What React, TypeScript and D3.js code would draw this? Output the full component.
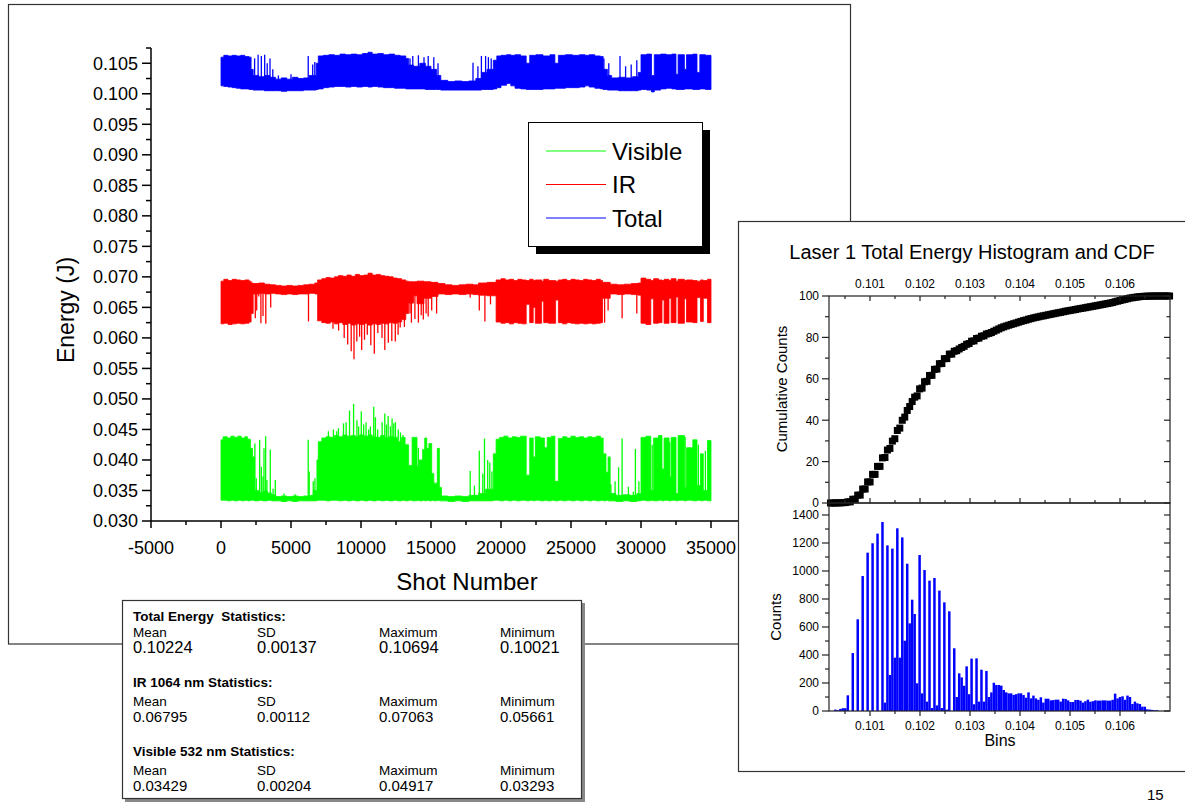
import React from 'react';
import * as d3 from 'd3';

const W = 1185;
const H = 803;
const FONT = "'Liberation Sans', Arial, Helvetica, sans-serif";

// ---------------- Main time-series (step envelopes + spikes) ----------------
const greenShots = [0,150,450,700,950,1200,1450,1700,1900,2100,2250,2400,2700,3000,3300,3600,3900,4300,4700,5100,5500,5900,6300,6600,6850,6950,7200,7500,7800,8100,8400,8700,9000,9300,9600,9900,10200,10500,10800,11100,11400,11700,12000,12300,12600,12900,13150,13400,13650,14000,14150,14400,14550,14700,14850,15050,15200,15450,15600,15750,16200,16700,17200,17700,18400,18900,19450,19650,19900,20200,20500,20800,21100,21400,21800,22050,22300,22450,22800,23100,23300,23600,23850,24100,24400,24700,25000,25300,25600,25900,26200,26500,26800,27100,27300,27500,27650,27800,28200,28700,29200,29700,30000,30350,30700,30900,31250,31500,31650,32000,32150,32500,32650,33100,33250,33700,34000,34250,34450,34750,35000];
const greenLow = [0.0334,0.0334,0.0333,0.0334,0.0333,0.0334,0.0333,0.0334,0.0333,0.0334,0.0334,0.0333,0.0334,0.0333,0.0334,0.0333,0.0333,0.0332,0.0333,0.0332,0.0333,0.0333,0.0333,0.0333,0.0334,0.0334,0.0334,0.0333,0.0334,0.0334,0.0333,0.0334,0.0333,0.0334,0.0333,0.0334,0.0333,0.0334,0.0333,0.0334,0.0333,0.0334,0.0333,0.0334,0.0333,0.0334,0.0333,0.0334,0.0333,0.0334,0.0333,0.0334,0.0333,0.0334,0.0333,0.0334,0.0333,0.0334,0.0333,0.0333,0.0332,0.0333,0.0332,0.0333,0.0333,0.0333,0.0334,0.0334,0.0333,0.0334,0.0333,0.0334,0.0333,0.0334,0.0333,0.0334,0.0333,0.0334,0.0333,0.0334,0.0333,0.0334,0.0333,0.0334,0.0333,0.0334,0.0333,0.0334,0.0333,0.0334,0.0333,0.0334,0.0333,0.0334,0.0333,0.0334,0.0333,0.0333,0.0332,0.0333,0.0332,0.0333,0.0334,0.0333,0.0334,0.0333,0.0334,0.0333,0.0334,0.0333,0.0334,0.0333,0.0334,0.0333,0.0334,0.0333,0.0334,0.0333,0.0334,0.0333,0.0333];
const greenHigh = [0.0433,0.0438,0.0436,0.0439,0.0437,0.0439,0.0436,0.0438,0.0434,0.0419,0.0405,0.0350,0.0346,0.0349,0.0346,0.0343,0.0340,0.0341,0.0340,0.0341,0.0340,0.0341,0.0342,0.0350,0.0400,0.0430,0.0436,0.0438,0.0437,0.0440,0.0438,0.0441,0.0439,0.0440,0.0438,0.0441,0.0439,0.0441,0.0438,0.0437,0.0440,0.0436,0.0438,0.0437,0.0430,0.0437,0.0425,0.0391,0.0437,0.0389,0.0400,0.0417,0.0436,0.0419,0.0427,0.0378,0.0362,0.0419,0.0355,0.0341,0.0340,0.0341,0.0340,0.0342,0.0345,0.0352,0.0410,0.0434,0.0437,0.0439,0.0436,0.0438,0.0437,0.0439,0.0375,0.0436,0.0405,0.0438,0.0436,0.0420,0.0437,0.0439,0.0365,0.0435,0.0438,0.0436,0.0439,0.0437,0.0438,0.0436,0.0438,0.0437,0.0439,0.0436,0.0410,0.0380,0.0405,0.0345,0.0342,0.0343,0.0342,0.0345,0.0437,0.0439,0.0350,0.0436,0.0440,0.0385,0.0436,0.0372,0.0437,0.0345,0.0440,0.0355,0.0420,0.0433,0.0358,0.0410,0.0350,0.0432,0.0432];
const greenSpikeShots = [2420,2520,2760,2880,3000,3070,3190,3280,3520,3720,3880,4500,5300,6230,6300,6590,6710,7670,8030,8270,8390,8750,8940,9180,9470,9710,9830,10020,10190,10360,10550,10670,10910,11030,11190,11510,11700,11820,11940,12100,12220,12340,12460,12660,12820,13000,14100,17800,18100,18450,18700,18820,19050,19200,19350,27850,28150,28400,28650,29100,29450,29600,29850,30800,32050,33150,34100,34600];
const greenSpikeValues = [0.0427,0.0370,0.0433,0.0389,0.0373,0.0419,0.0439,0.0367,0.0417,0.0353,0.0367,0.0345,0.0344,0.0433,0.0381,0.0365,0.0370,0.0447,0.0450,0.0447,0.0452,0.0460,0.0462,0.0481,0.0492,0.0465,0.0455,0.0480,0.0458,0.0462,0.0450,0.0455,0.0487,0.0470,0.0450,0.0462,0.0476,0.0458,0.0472,0.0455,0.0468,0.0460,0.0462,0.0450,0.0445,0.0441,0.0420,0.0382,0.0358,0.0415,0.0378,0.0435,0.0400,0.0396,0.0381,0.0360,0.0365,0.0388,0.0435,0.0356,0.0348,0.0418,0.0365,0.0425,0.0430,0.0438,0.0425,0.0415];

const redShots = [0,200,500,800,1100,1400,1700,2000,2150,2300,2700,3100,3500,3900,4300,4700,5100,5500,5900,6300,6700,6900,7200,7500,7800,8100,8400,8700,9000,9300,9600,9900,10200,10500,10800,11100,11400,11700,12000,12300,12600,12900,13200,13400,13750,14000,14500,15000,15500,16000,16500,17000,17500,18000,18400,19000,19650,20000,20300,20600,20900,21200,21500,21800,22050,22300,22450,22900,23050,23400,23900,24100,24400,24700,25000,25300,25600,25900,26200,26500,26800,27100,27250,27800,28300,28800,29300,29800,30000,30350,30700,30900,31250,31500,31650,32000,32150,32500,32650,33100,33250,33700,34000,34250,34450,34750,35000];
const redLow = [0.0623,0.0624,0.0622,0.0623,0.0624,0.0623,0.0624,0.0626,0.0640,0.0672,0.0673,0.0672,0.0673,0.0672,0.0671,0.0672,0.0671,0.0672,0.0672,0.0673,0.0672,0.0628,0.0625,0.0624,0.0626,0.0623,0.0625,0.0622,0.0624,0.0621,0.0623,0.0622,0.0624,0.0621,0.0623,0.0622,0.0624,0.0623,0.0625,0.0624,0.0626,0.0630,0.0640,0.0657,0.0669,0.0656,0.0665,0.0668,0.0672,0.0671,0.0672,0.0671,0.0672,0.0671,0.0670,0.0669,0.0626,0.0624,0.0625,0.0623,0.0625,0.0624,0.0623,0.0655,0.0625,0.0650,0.0624,0.0660,0.0625,0.0624,0.0662,0.0625,0.0623,0.0625,0.0624,0.0623,0.0624,0.0623,0.0624,0.0623,0.0624,0.0625,0.0665,0.0672,0.0671,0.0672,0.0671,0.0670,0.0624,0.0622,0.0664,0.0624,0.0625,0.0662,0.0624,0.0665,0.0625,0.0667,0.0624,0.0664,0.0626,0.0625,0.0666,0.0627,0.0665,0.0625,0.0625];
const redHigh = [0.0693,0.0696,0.0694,0.0696,0.0695,0.0694,0.0695,0.0693,0.0690,0.0689,0.0690,0.0688,0.0687,0.0686,0.0685,0.0686,0.0685,0.0686,0.0687,0.0688,0.0690,0.0695,0.0697,0.0699,0.0698,0.0700,0.0702,0.0701,0.0703,0.0701,0.0704,0.0702,0.0703,0.0706,0.0703,0.0704,0.0702,0.0701,0.0700,0.0698,0.0697,0.0695,0.0693,0.0692,0.0692,0.0693,0.0692,0.0691,0.0689,0.0687,0.0686,0.0687,0.0688,0.0687,0.0690,0.0691,0.0695,0.0697,0.0695,0.0696,0.0694,0.0696,0.0695,0.0694,0.0696,0.0694,0.0695,0.0693,0.0696,0.0694,0.0693,0.0695,0.0696,0.0694,0.0696,0.0695,0.0694,0.0696,0.0695,0.0694,0.0696,0.0694,0.0691,0.0688,0.0687,0.0688,0.0689,0.0690,0.0698,0.0696,0.0694,0.0697,0.0695,0.0694,0.0696,0.0694,0.0697,0.0693,0.0696,0.0694,0.0695,0.0694,0.0693,0.0695,0.0694,0.0696,0.0696];
const redSpikeShots = [2450,2550,2700,2850,3000,3200,3550,6250,8000,8400,8800,9050,9300,9500,9700,9900,10050,10250,10450,10700,10950,11200,11500,11700,11950,12200,12450,12650,12800,13100,13500,13600,13850,14100,14300,14450,14650,14800,15050,15400,17800,18450,18850,19250,27400,27650,28650,29700];
const redSpikeValues = [0.0632,0.0645,0.0668,0.0624,0.0636,0.0623,0.0650,0.0627,0.0615,0.0612,0.0600,0.0589,0.0578,0.0565,0.0594,0.0602,0.0580,0.0597,0.0605,0.0588,0.0574,0.0608,0.0600,0.0580,0.0592,0.0595,0.0594,0.0605,0.0617,0.0618,0.0640,0.0625,0.0631,0.0625,0.0637,0.0630,0.0640,0.0635,0.0645,0.0640,0.0666,0.0645,0.0627,0.0655,0.0625,0.0645,0.0632,0.0640];

const blueShots = [0,200,500,800,1100,1400,1700,2000,2150,2300,2700,3100,3500,3900,4300,4700,5100,5500,5900,6300,6800,6950,7300,7700,8100,8500,8900,9300,9700,10100,10500,10800,11200,11600,12000,12400,12800,13200,13400,13750,14200,14600,15000,15400,15700,16200,16700,17200,17700,18200,18600,19000,19450,19700,20000,20400,20700,21000,21400,21800,22050,22500,23000,23500,23850,24100,24600,25100,25600,26000,26300,26700,27100,27300,27600,27900,28400,28900,29400,29800,30000,30400,30750,30950,31400,31800,32200,32500,32650,33100,33250,33700,34000,34200,34600,35000];
const blueLow = [0.1013,0.1012,0.1011,0.1010,0.1009,0.1008,0.1008,0.1007,0.1007,0.1006,0.1006,0.1005,0.1005,0.1005,0.1004,0.1005,0.1005,0.1005,0.1006,0.1006,0.1007,0.1008,0.1010,0.1011,0.1012,0.1012,0.1011,0.1012,0.1011,0.1012,0.1011,0.1012,0.1011,0.1010,0.1010,0.1009,0.1009,0.1008,0.1008,0.1008,0.1008,0.1007,0.1007,0.1007,0.1006,0.1006,0.1006,0.1006,0.1006,0.1006,0.1007,0.1007,0.1008,0.1010,0.1014,0.1017,0.1013,0.1009,0.1008,0.1007,0.1007,0.1007,0.1008,0.1008,0.1009,0.1009,0.1010,0.1010,0.1011,0.1013,0.1011,0.1009,0.1008,0.1007,0.1006,0.1006,0.1005,0.1005,0.1005,0.1006,0.1007,0.1006,0.1003,0.1006,0.1008,0.1009,0.1008,0.1007,0.1007,0.1008,0.1008,0.1007,0.1007,0.1008,0.1007,0.1007];
const blueHigh = [0.1060,0.1063,0.1062,0.1063,0.1062,0.1063,0.1061,0.1060,0.1040,0.1030,0.1028,0.1030,0.1027,0.1024,0.1026,0.1024,0.1027,0.1025,0.1026,0.1030,0.1050,0.1062,0.1063,0.1064,0.1063,0.1065,0.1064,0.1065,0.1064,0.1066,0.1068,0.1065,0.1066,0.1064,0.1065,0.1063,0.1062,0.1058,0.1047,0.1045,0.1050,0.1045,0.1040,0.1030,0.1022,0.1020,0.1021,0.1020,0.1021,0.1025,0.1035,0.1040,0.1055,0.1062,0.1063,0.1064,0.1063,0.1064,0.1062,0.1050,0.1063,0.1064,0.1062,0.1064,0.1050,0.1063,0.1064,0.1063,0.1064,0.1063,0.1064,0.1062,0.1061,0.1040,0.1030,0.1026,0.1027,0.1026,0.1028,0.1035,0.1064,0.1065,0.1030,0.1064,0.1065,0.1064,0.1065,0.1032,0.1064,0.1040,0.1064,0.1065,0.1035,0.1064,0.1063,0.1063];
const blueSpikeShots = [2400,2650,2880,3120,3300,3500,3700,4100,5000,6230,6550,6700,13500,13700,14100,14500,14800,15200,15500,18000,18350,18600,18900,19100,19300,27350,27700,28500,28900,29300,29700];
const blueSpikeValues = [0.1058,0.1064,0.1062,0.1064,0.1050,0.1058,0.1040,0.1030,0.1032,0.1062,0.1048,0.1052,0.1058,0.1062,0.1063,0.1060,0.1062,0.1060,0.1050,0.1051,0.1045,0.1062,0.1062,0.1060,0.1058,0.1058,0.1050,0.1062,0.1045,0.1048,0.1055];

const energyTicks = [0.030,0.035,0.040,0.045,0.050,0.055,0.060,0.065,0.070,0.075,0.080,0.085,0.090,0.095,0.100,0.105];
const shotTicks = [-5000,0,5000,10000,15000,20000,25000,30000,35000];

const legendLabels = ['Visible', 'IR', 'Total'];
const legendColors = ['#00ff00', '#ff0000', '#0000ff'];

// ---------------- Statistics box ----------------
const statColumns = ['Mean', 'SD', 'Maximum', 'Minimum'];
const statTitles = ['Total Energy  Statistics:', 'IR 1064 nm Statistics:', 'Visible 532 nm Statistics:'];
const totalStats = ['0.10224', '0.00137', '0.10694', '0.10021'];
const irStats = ['0.06795', '0.00112', '0.07063', '0.05661'];
const visibleStats = ['0.03429', '0.00204', '0.04917', '0.03293'];

// ---------------- Histogram / CDF ----------------
const histFirstCenter = 0.10021;
const histBinWidth = 0.0000495;
const histCounts = [0,0,10,5,15,20,20,112,0,414,0,655,0,964,0,1131,0,1198,0,1267,0,1350,60,1183,257,1160,381,1305,381,1240,502,1052,626,795,693,198,1114,126,1007,67,931,21,950,40,860,21,776,10,712,0,448,100,269,240,180,319,120,374,48,376,67,295,67,286,100,133,202,186,186,181,150,133,126,126,115,120,126,126,114,95,133,90,110,90,80,98,60,88,88,76,78,81,81,67,88,86,76,64,64,79,79,74,60,70,81,66,70,76,74,74,76,76,74,74,80,124,90,100,105,80,110,100,50,67,55,50,31,31,12,10,8,5,5,0,0,0,0,0];
const binTicks = [0.101,0.102,0.103,0.104,0.105,0.106];
const cdfTicks = [0,20,40,60,80,100];
const countTicks = [0,200,400,600,800,1000,1200,1400];

function stepAreaPath(shots: number[], low: number[], high: number[], x: any, y: any) {
  const pts = shots.map((s, i) => ({ s, lo: low[i], hi: high[i] }));
  return d3.area<any>().x((d) => x(d.s)).y0((d) => y(d.lo)).y1((d) => y(d.hi)).curve(d3.curveStepAfter)(pts) || '';
}

function bandAt(shots: number[], arr: number[], s: number) {
  let idx = d3.bisectRight(shots, s) - 1;
  if (idx < 0) idx = 0;
  return arr[idx];
}

export default function App() {
  // main chart scales
  const x = d3.scaleLinear().domain([-5000, 37000]).range([151, 739]);
  const y = d3.scaleLinear().domain([0.030, 0.1075]).range([521, 48]);

  const series = [
    { shots: greenShots, low: greenLow, high: greenHigh, sx: greenSpikeShots, sv: greenSpikeValues, color: '#00ff00', up: true },
    { shots: redShots, low: redLow, high: redHigh, sx: redSpikeShots, sv: redSpikeValues, color: '#ff0000', up: false },
    { shots: blueShots, low: blueLow, high: blueHigh, sx: blueSpikeShots, sv: blueSpikeValues, color: '#0000ff', up: true },
  ];

  const yMinor = energyTicks.map((v) => v + 0.0025);
  const xMinor = shotTicks.map((v) => v + 2500).filter((v) => v <= 37000);

  // histogram scales
  const xb = d3.scaleLinear().domain([0.10018, 0.107]).range([829, 1170]);
  const yc = d3.scaleLinear().domain([0, 100]).range([503, 296]);
  const yh = d3.scaleLinear().domain([0, 1400]).range([711, 515]);
  const total = d3.sum(histCounts);
  const cum: number[] = Array.from(d3.cumsum(histCounts));
  const centers = histCounts.map((_, i) => histFirstCenter + i * histBinWidth);
  const binMinor = binTicks.map((v) => v - 0.0005).concat([0.1065]);
  const cdfMinor = [10, 30, 50, 70, 90];
  const countMinor = [100, 300, 500, 700, 900, 1100, 1300];

  const statRows = [totalStats, irStats, visibleStats];
  const titleY = [621, 687, 756];
  const colY = [637, 706, 775];
  const valY = [653, 722, 791];
  const valSize = [16.5, 15, 15];
  const colX = [133, 257, 379, 500];

  return (
    <div style={{ position: 'absolute', left: 0, top: 0, width: W, height: H, overflow: 'hidden', background: '#fff' }}>
      <svg width={W} height={H} style={{ display: 'block', fontFamily: FONT }}>
        <rect x={0} y={0} width={W} height={H} fill="#fff" />
        {/* main frame */}
        <rect x={8.5} y={4.5} width={842} height={639.5} fill="#fff" stroke="#333" strokeWidth={1.2} />

        {/* series */}
        {series.map((sr, k) => (
          <g key={k}>
            <path d={stepAreaPath(sr.shots, sr.low, sr.high, x, y)} fill={sr.color} stroke={sr.color} strokeWidth={0.8} />
            {sr.sx.map((s, i) => {
              const base = sr.up ? bandAt(sr.shots, sr.low, s) : bandAt(sr.shots, sr.high, s);
              return <line key={i} x1={x(s)} x2={x(s)} y1={y(base)} y2={y(sr.sv[i])} stroke={sr.color} strokeWidth={1.3} />;
            })}
          </g>
        ))}

        {/* y axis */}
        <line x1={151} x2={151} y1={48} y2={521} stroke="#000" strokeWidth={1.5} />
        {energyTicks.map((v) => (
          <g key={v}>
            <line x1={142} x2={151} y1={y(v)} y2={y(v)} stroke="#000" strokeWidth={1.5} />
            <text x={138} y={y(v)} dy="0.36em" textAnchor="end" fontSize={18}>{v.toFixed(3)}</text>
          </g>
        ))}
        {yMinor.map((v) => (
          <line key={v} x1={146} x2={151} y1={y(v)} y2={y(v)} stroke="#000" strokeWidth={1.5} />
        ))}
        {/* x axis */}
        <line x1={151} x2={739} y1={521} y2={521} stroke="#000" strokeWidth={1.5} />
        {shotTicks.map((v) => (
          <g key={v}>
            <line x1={x(v)} x2={x(v)} y1={521} y2={528} stroke="#000" strokeWidth={1.5} />
            <text x={x(v)} y={554} textAnchor="middle" fontSize={18}>{v}</text>
          </g>
        ))}
        {xMinor.map((v) => (
          <line key={v} x1={x(v)} x2={x(v)} y1={521} y2={525} stroke="#000" strokeWidth={1.5} />
        ))}
        <text transform="translate(74,310) rotate(-90)" textAnchor="middle" fontSize={23}>Energy (J)</text>
        <text x={467} y={590} textAnchor="middle" fontSize={24}>Shot Number</text>

        {/* legend */}
        <rect x={536} y={130} width={174} height={124} fill="#000" />
        <rect x={528.5} y={122.5} width={174} height={124} fill="#fff" stroke="#000" strokeWidth={1} />
        {legendLabels.map((l, i) => (
          <g key={l}>
            <line x1={546} x2={606} y1={151 + i * 33.5} y2={151 + i * 33.5} stroke={legendColors[i]} strokeWidth={1} />
            <text x={612} y={151 + i * 33.5 + 8.5} fontSize={24}>{l}</text>
          </g>
        ))}

        {/* histogram panel */}
        <rect x={738.5} y={221.5} width={470} height={550} fill="#fff" stroke="#333" strokeWidth={1.2} />
        <text x={972} y={259} textAnchor="middle" fontSize={20}>Laser 1 Total Energy Histogram and CDF</text>

        {/* histogram bars */}
        {histCounts.map((c, i) => c > 0 ? (
          <rect key={i} x={xb(centers[i] - histBinWidth / 2)} y={yh(c)} width={xb(centers[i] + histBinWidth / 2) - xb(centers[i] - histBinWidth / 2)} height={yh(0) - yh(c)} fill="#0000ff" />
        ) : null)}

        {/* CDF markers */}
        {cum.map((c, i) => (
          <rect key={i} x={xb(centers[i]) - 3.5} y={yc((c / total) * 100) - 3.5} width={7} height={7} fill="#000" />
        ))}

        {/* CDF frame & ticks */}
        <rect x={829} y={296} width={341} height={207} fill="none" stroke="#222" strokeWidth={1.2} />
        <rect x={829} y={503} width={341} height={208} fill="none" stroke="#222" strokeWidth={1.2} />
        {cdfTicks.map((v) => (
          <g key={v}>
            <line x1={822} x2={829} y1={yc(v)} y2={yc(v)} stroke="#222" strokeWidth={1.2} />
            <line x1={1164} x2={1170} y1={yc(v)} y2={yc(v)} stroke="#222" strokeWidth={1.2} />
            <text x={819} y={yc(v)} dy="0.36em" textAnchor="end" fontSize={12}>{v}</text>
          </g>
        ))}
        {cdfMinor.map((v) => (
          <g key={v}>
            <line x1={825} x2={829} y1={yc(v)} y2={yc(v)} stroke="#222" strokeWidth={1.2} />
            <line x1={1166.5} x2={1170} y1={yc(v)} y2={yc(v)} stroke="#222" strokeWidth={1.2} />
          </g>
        ))}
        {binTicks.map((v) => (
          <g key={v}>
            <line x1={xb(v)} x2={xb(v)} y1={296} y2={301} stroke="#222" strokeWidth={1.2} />
            <line x1={xb(v)} x2={xb(v)} y1={503} y2={498} stroke="#222" strokeWidth={1.2} />
            <line x1={xb(v)} x2={xb(v)} y1={711} y2={716} stroke="#222" strokeWidth={1.2} />
            <text x={xb(v)} y={288} textAnchor="middle" fontSize={12}>{v.toFixed(3)}</text>
            <text x={xb(v)} y={730} textAnchor="middle" fontSize={12}>{v.toFixed(3)}</text>
          </g>
        ))}
        {binMinor.map((v) => (
          <g key={v}>
            <line x1={xb(v)} x2={xb(v)} y1={296} y2={299} stroke="#222" strokeWidth={1.2} />
            <line x1={xb(v)} x2={xb(v)} y1={503} y2={500} stroke="#222" strokeWidth={1.2} />
            <line x1={xb(v)} x2={xb(v)} y1={711} y2={714} stroke="#222" strokeWidth={1.2} />
          </g>
        ))}
        {countTicks.map((v) => (
          <g key={v}>
            <line x1={822} x2={829} y1={yh(v)} y2={yh(v)} stroke="#222" strokeWidth={1.2} />
            <line x1={1164} x2={1170} y1={yh(v)} y2={yh(v)} stroke="#222" strokeWidth={1.2} />
            <text x={819} y={yh(v)} dy="0.36em" textAnchor="end" fontSize={12}>{v}</text>
          </g>
        ))}
        {countMinor.map((v) => (
          <g key={v}>
            <line x1={825} x2={829} y1={yh(v)} y2={yh(v)} stroke="#222" strokeWidth={1.2} />
            <line x1={1166.5} x2={1170} y1={yh(v)} y2={yh(v)} stroke="#222" strokeWidth={1.2} />
          </g>
        ))}
        <text transform="translate(787,389) rotate(-90)" textAnchor="middle" fontSize={15}>Cumulative Counts</text>
        <text transform="translate(781,617) rotate(-90)" textAnchor="middle" fontSize={15}>Counts</text>
        <text x={1000} y={746} textAnchor="middle" fontSize={16}>Bins</text>

        {/* statistics box */}
        <rect x={125} y={603} width={460} height={199} fill="#888" />
        <rect x={122.5} y={600.5} width={459} height={198} fill="#fff" stroke="#333" strokeWidth={1.2} />
        {statRows.map((row, r) => (
          <g key={r}>
            <text x={133} y={titleY[r]} fontSize={13.5} fontWeight="bold" style={{ whiteSpace: 'pre' }}>{statTitles[r]}</text>
            {statColumns.map((c, j) => (
              <text key={c} x={colX[j]} y={colY[r]} fontSize={13.5}>{c}</text>
            ))}
            {row.map((v, j) => (
              <text key={j} x={colX[j]} y={valY[r]} fontSize={valSize[r]}>{v}</text>
            ))}
          </g>
        ))}

        <text x={1147} y={800} fontSize={15}>15</text>
      </svg>
    </div>
  );
}
